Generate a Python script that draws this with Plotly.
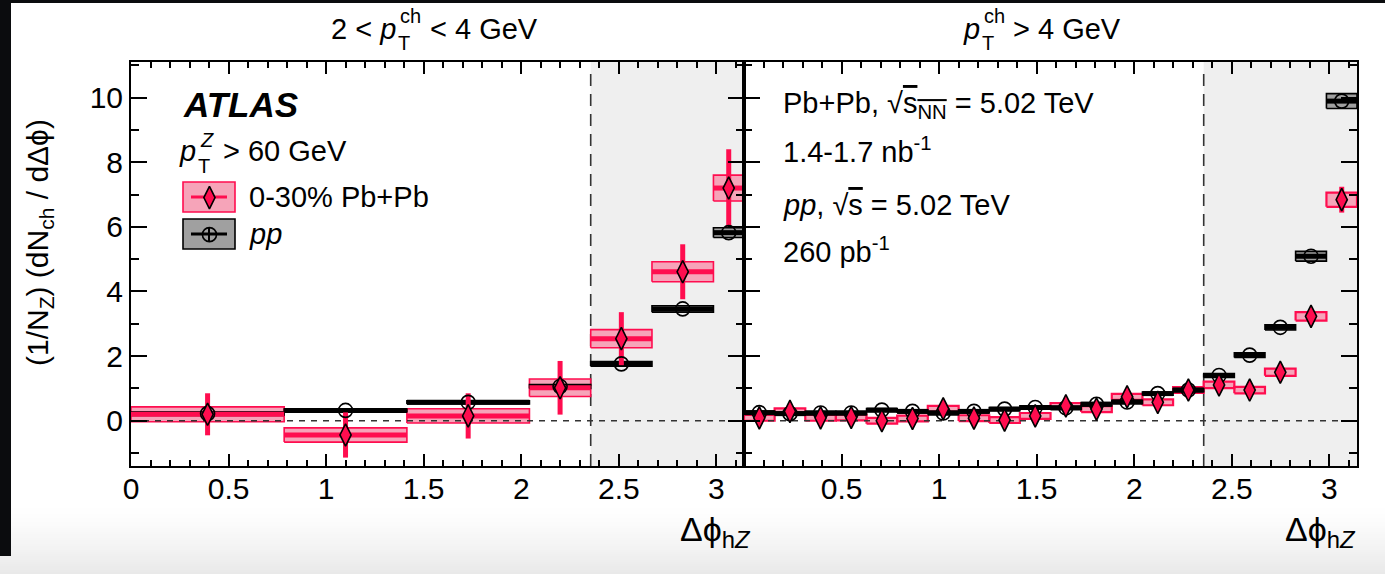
import plotly.graph_objects as go

# ---------------- data ----------------
# left panel: 2 < pT^ch < 4 GeV (bin edges in delta-phi)
edges_a = [0.0, 0.785, 1.414, 2.042, 2.356, 2.670, 2.985, 3.1416]
pbpb_a = [0.20, -0.44, 0.15, 1.02, 2.54, 4.61, 7.20]
pbpb_a_stat = [0.65, 0.70, 0.70, 0.83, 0.82, 0.85, 1.20]
pbpb_a_sys = [0.23, 0.22, 0.22, 0.27, 0.28, 0.31, 0.40]
pp_a = [0.22, 0.32, 0.57, 1.06, 1.76, 3.46, 5.82]
pp_a_sys = [0.04, 0.04, 0.05, 0.06, 0.07, 0.10, 0.15]

# right panel: pT^ch > 4 GeV
edges_b = [0.0, 0.157, 0.314, 0.471, 0.628, 0.785, 0.942, 1.100, 1.257, 1.414,
           1.571, 1.728, 1.885, 2.042, 2.199, 2.356, 2.513, 2.670, 2.827, 2.985, 3.1416]
pbpb_b = [0.09, 0.29, 0.09, 0.10, 0.00, 0.07, 0.37, 0.08, 0.02, 0.15,
          0.46, 0.36, 0.74, 0.57, 0.95, 1.11, 0.95, 1.50, 3.23, 6.84]
pbpb_b_stat = [0.12, 0.12, 0.12, 0.12, 0.12, 0.12, 0.12, 0.12, 0.12, 0.12,
               0.12, 0.13, 0.13, 0.13, 0.14, 0.15, 0.15, 0.18, 0.22, 0.40]
pbpb_b_sys = [0.09, 0.09, 0.09, 0.09, 0.09, 0.09, 0.09, 0.09, 0.09, 0.09,
              0.09, 0.09, 0.09, 0.09, 0.09, 0.10, 0.10, 0.11, 0.13, 0.22]
pp_b = [0.25, 0.22, 0.24, 0.24, 0.33, 0.29, 0.24, 0.29, 0.36, 0.41,
        0.40, 0.51, 0.58, 0.84, 0.95, 1.40, 2.03, 2.89, 5.09, 9.89]
pp_b_sys = [0.05, 0.05, 0.05, 0.05, 0.05, 0.05, 0.05, 0.05, 0.05, 0.05,
            0.05, 0.05, 0.05, 0.05, 0.05, 0.06, 0.07, 0.08, 0.15, 0.23]

near_side_cut = 2.356  # 3pi/4
x_max = 3.1416

RED = "#FF0D4F"
PINK = "#F6A4B9"
GREYBOX = "#A0A0A0"
SHADE = "#EFEFEF"
FONT = "Liberation Sans, Arial, sans-serif"

# ---------------- geometry ----------------
W, H = 1385, 574
ML, MR, MT, MB = 131, 28, 62, 108
PW = W - ML - MR
PH = H - MT - MB


def px(x):
    return (x - ML) / PW


def py(y):
    return (H - MB - y) / PH


fig = go.Figure()


def centers(edges):
    return [(edges[i] + edges[i + 1]) / 2 for i in range(len(edges) - 1)]


def boxes(edges, vals, errs):
    xs, ys = [], []
    for i, v in enumerate(vals):
        x0, x1 = edges[i], edges[i + 1]
        xs += [x0, x1, x1, x0, x0, None]
        ys += [v - errs[i], v - errs[i], v + errs[i], v + errs[i], v - errs[i], None]
    return xs, ys


def hsegs(edges, vals):
    xs, ys = [], []
    for i, v in enumerate(vals):
        xs += [edges[i], edges[i + 1], None]
        ys += [v, v, None]
    return xs, ys


def vsegs(cs, vals, errs):
    xs, ys = [], []
    for c, v, e in zip(cs, vals, errs):
        xs += [c, c, None]
        ys += [v - e, v + e, None]
    return xs, ys


def add_panel(edges, pb, pb_stat, pb_sys, pp, pp_sys, xa, ya, red_center, box_lw):
    cs = centers(edges)
    bx, by = boxes(edges, pb, pb_sys)
    fig.add_trace(go.Scatter(x=bx, y=by, mode="lines", fill="toself", fillcolor=PINK,
                             line=dict(color=RED, width=box_lw), xaxis=xa, yaxis=ya,
                             showlegend=False, hoverinfo="skip"))
    bx, by = boxes(edges, pp, pp_sys)
    fig.add_trace(go.Scatter(x=bx, y=by, mode="lines", fill="toself", fillcolor=GREYBOX,
                             line=dict(color="black", width=1.6), xaxis=xa, yaxis=ya,
                             showlegend=False, hoverinfo="skip"))
    fig.add_trace(go.Scatter(x=[0, x_max], y=[0, 0], mode="lines",
                             line=dict(color="#333333", width=1.6, dash="6px,6px"),
                             xaxis=xa, yaxis=ya, showlegend=False, hoverinfo="skip"))
    hx, hy = hsegs(edges, pp)
    fig.add_trace(go.Scatter(x=hx, y=hy, mode="lines", line=dict(color="black", width=5),
                             xaxis=xa, yaxis=ya, showlegend=False, hoverinfo="skip"))
    if red_center:
        hx, hy = hsegs(edges, pb)
        fig.add_trace(go.Scatter(x=hx, y=hy, mode="lines", line=dict(color=RED, width=5),
                                 xaxis=xa, yaxis=ya, showlegend=False, hoverinfo="skip"))
    vx, vy = vsegs(cs, pb, pb_stat)
    fig.add_trace(go.Scatter(x=vx, y=vy, mode="lines", line=dict(color=RED, width=5),
                             xaxis=xa, yaxis=ya, showlegend=False, hoverinfo="skip"))
    fig.add_trace(go.Scatter(x=cs, y=pp, mode="markers",
                             marker=dict(symbol="circle-open", size=14,
                                         line=dict(color="black", width=1.6), color="black"),
                             xaxis=xa, yaxis=ya, showlegend=False))
    fig.add_trace(go.Scatter(x=cs, y=pb, mode="markers",
                             marker=dict(symbol="diamond-tall", size=16, color=RED,
                                         line=dict(color="black", width=1.6)),
                             xaxis=xa, yaxis=ya, showlegend=False))


add_panel(edges_a, pbpb_a, pbpb_a_stat, pbpb_a_sys, pp_a, pp_a_sys, "x", "y", True, 1.6)
add_panel(edges_b, pbpb_b, pbpb_b_stat, pbpb_b_sys, pp_b, pp_b_sys, "x2", "y2", False, 2.2)

shapes = []
# page frame of the photographed screen
shapes.append(dict(type="rect", xref="paper", yref="paper", x0=px(0), x1=px(11), y0=py(556), y1=py(0),
                   fillcolor="#0b0c0e", line=dict(width=0), layer="below"))
shapes.append(dict(type="rect", xref="paper", yref="paper", x0=px(0), x1=px(W), y0=py(3), y1=py(0),
                   fillcolor="#0b0c0e", line=dict(width=0), layer="below"))
n_strip = 34
top_fade = 506
for i in range(n_strip):
    y0 = top_fade + i * (H - top_fade) / n_strip
    y1 = top_fade + (i + 1) * (H - top_fade) / n_strip
    g = int(round(255 - (255 - 233) * ((i + 1) / n_strip) ** 1.3))
    shapes.append(dict(type="rect", xref="paper", yref="paper", x0=px(11 if y1 <= 556 else 0), x1=px(W),
                       y0=py(y1 + 0.5), y1=py(y0), fillcolor=f"rgb({g},{g},{g})",
                       line=dict(width=0), layer="below"))

for xa, ya in (("x", "y"), ("x2", "y2")):
    shapes.append(dict(type="rect", xref=xa, yref=f"{ya} domain", x0=near_side_cut, x1=x_max,
                       y0=0, y1=1, fillcolor=SHADE, line=dict(width=0), layer="below"))
    shapes.append(dict(type="line", xref=xa, yref=f"{ya} domain", x0=near_side_cut, x1=near_side_cut,
                       y0=0, y1=0.99, line=dict(color="#333333", width=1.6, dash="12px,8px"),
                       layer="below"))

# legend boxes (below the legend markers)
shapes.append(dict(type="rect", xref="paper", yref="paper", x0=px(183), x1=px(235), y0=py(212), y1=py(182),
                   fillcolor=PINK, line=dict(color=RED, width=1.6), layer="below"))
shapes.append(dict(type="line", xref="paper", yref="paper", x0=px(191), x1=px(227), y0=py(197), y1=py(197),
                   line=dict(color=RED, width=3), layer="below"))
shapes.append(dict(type="rect", xref="paper", yref="paper", x0=px(183), x1=px(235), y0=py(249), y1=py(219),
                   fillcolor=GREYBOX, line=dict(color="black", width=1.6), layer="below"))
shapes.append(dict(type="line", xref="paper", yref="paper", x0=px(191), x1=px(227), y0=py(234), y1=py(234),
                   line=dict(color="black", width=3), layer="below"))
shapes.append(dict(type="line", xref="paper", yref="paper", x0=px(209), x1=px(209), y0=py(241), y1=py(227),
                   line=dict(color="black", width=2), layer="below"))


def dx(p):
    return (p - ML) / 194.0


def dy(p):
    return (420 - p) / 32.3


fig.add_trace(go.Scatter(x=[dx(209)], y=[dy(234)], mode="markers",
                         marker=dict(symbol="circle-open", size=14, color="black",
                                     line=dict(color="black", width=1.6)),
                         xaxis="x", yaxis="y", showlegend=False, hoverinfo="skip"))
fig.add_trace(go.Scatter(x=[dx(209)], y=[dy(197)], mode="markers",
                         marker=dict(symbol="diamond-tall", size=16, color=RED,
                                     line=dict(color="black", width=1.6)),
                         xaxis="x", yaxis="y", showlegend=False, hoverinfo="skip"))

# ---------------- text ----------------
ann = []


def text(x, y, s, size=29, xanchor="left", yanchor="middle", **kw):
    ann.append(dict(x=px(x), y=py(y), xref="paper", yref="paper", text=s, showarrow=False,
                    xanchor=xanchor, yanchor=yanchor, font=dict(family=FONT, size=size, color="black"),
                    **kw))


# panel titles with stacked sub/superscripts (ROOT style)
text(398, 29, "2 < <i>p</i>", xanchor="right")
text(398, 16, "ch", size=20)
text(396, 43, "T", size=20)
text(428, 29, "< 4 GeV")
text(982, 29, "<i>p</i>", xanchor="right")
text(982, 16, "ch", size=20)
text(980, 43, "T", size=20)
text(1011, 29, "> 4 GeV")

text(181, 104, "<b><i>ATLAS</i></b>", size=35)
text(198, 151, "<i>p</i>", xanchor="right")
text(198, 140, "<i>Z</i>", size=20)
text(196, 166, "T", size=20)
text(221, 151, "> 60 GeV")
text(247, 197, "0-30% Pb+Pb")
text(247, 234, "<i>pp</i>")
text(781, 105, "Pb+Pb, √<span style='text-decoration:overline'>s<sub>NN</sub></span> = 5.02 TeV")
text(781, 150, "1.4-1.7 nb<sup>-1</sup>")
text(781, 205, "<i>pp</i>, √<span style='text-decoration:overline'>s</span> = 5.02 TeV")
text(781, 250, "260 pb<sup>-1</sup>")
text(40, 243, "(1/N<sub>Z</sub>) (dN<sub>ch</sub> / dΔϕ)", size=30, xanchor="center", textangle=-90)
text(753, 531, "Δϕ<sub>h<i>Z</i></sub>", size=34, xanchor="right")
text(1358, 531, "Δϕ<sub>h<i>Z</i></sub>", size=34, xanchor="right")

# ---------------- axes ----------------
tickfont = dict(family=FONT, size=30, color="black")
xcommon = dict(range=[0, x_max], ticks="inside", ticklen=12, tickwidth=1.5, tickcolor="black",
               showline=True, linecolor="black", linewidth=2, mirror="allticks",
               showgrid=False, zeroline=False, tickfont=tickfont, ticklabelstandoff=-5,
               minor=dict(ticks="inside", ticklen=6, tickwidth=1.5, tickcolor="black",
                          tickmode="linear", tick0=0, dtick=0.1, showgrid=False))
ycommon = dict(range=[-1.4, 11.1], ticks="inside", ticklen=16, tickwidth=1.5, tickcolor="black",
               showline=True, linecolor="black", linewidth=2, mirror="allticks",
               showgrid=False, zeroline=False, tickfont=tickfont, tickmode="linear", tick0=0, dtick=2,
               minor=dict(ticks="inside", ticklen=8, tickwidth=1.5, tickcolor="black",
                          tickmode="linear", tick0=0, dtick=1, showgrid=False))

fig.update_layout(
    width=W, height=H,
    margin=dict(l=ML, r=MR, t=MT, b=MB, pad=0),
    paper_bgcolor="white", plot_bgcolor="white",
    showlegend=False,
    xaxis=dict(domain=[0, 0.5], anchor="y", tickmode="array",
               tickvals=[0, 0.5, 1, 1.5, 2, 2.5, 3], ticktext=["0", "0.5", "1", "1.5", "2", "2.5", "3"],
               **xcommon),
    xaxis2=dict(domain=[0.5, 1], anchor="y2", tickmode="array",
                tickvals=[0, 0.5, 1, 1.5, 2, 2.5, 3], ticktext=["", "0.5", "1", "1.5", "2", "2.5", "3"],
                **xcommon),
    yaxis=dict(domain=[0, 1], anchor="x", **ycommon),
    yaxis2=dict(domain=[0, 1], anchor="x2", matches="y", showticklabels=False, **ycommon),
    shapes=shapes,
    annotations=ann,
)

fig.write_html("out.html")
